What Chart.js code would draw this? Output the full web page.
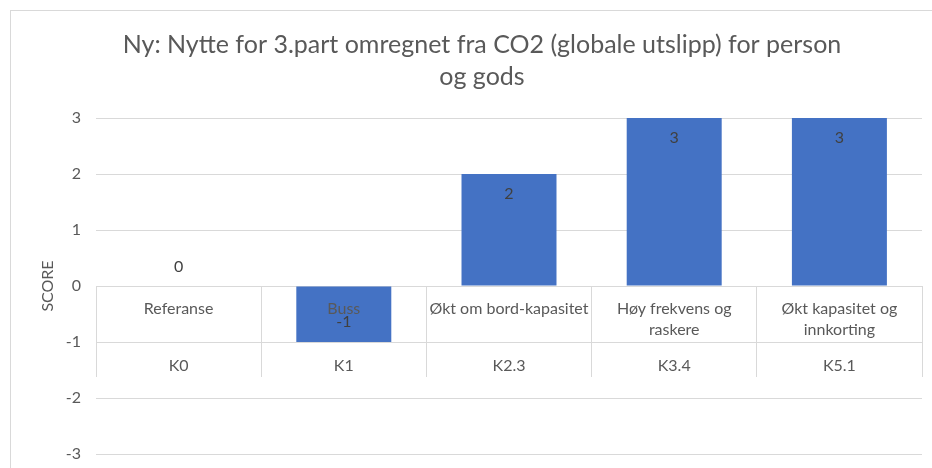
<!DOCTYPE html>
<html>
<head>
<meta charset="utf-8">
<script src="https://cdn.jsdelivr.net/npm/chart.js@4/dist/chart.umd.min.js"></script>
<style>
html, body { margin: 0; padding: 0; background: #fff; overflow: hidden; }
#wrap {
    position: absolute; left: 10px; top: 10px;
    width: 921px; height: 457px;
    border-left: 1px solid #d9d9d9; border-top: 1px solid #d9d9d9;
}
</style>
</head>
<body>
<div id="wrap"><canvas id="chart"></canvas></div>
<script>
const categories = ['K0', 'K1', 'K2.3', 'K3.4', 'K5.1'];
const names = [['Referanse'], ['Buss'], ['Økt om bord-kapasitet'], ['Høy frekvens og', 'raskere'], ['Økt kapasitet og', 'innkorting']];
const scores = [0, -1, 2, 3, 3];
const yMin = -3, yMax = 3, yStep = 1;
const chartTitle = ['Ny: Nytte for 3.part omregnet fra CO2 (globale utslipp) for person', 'og gods'];

const FONT = 'Lato';
const GREY = '#595959';
const LINE = '#d9d9d9';

// category table under the zero line + data labels, drawn on top of bars
const tableLabels = {
    id: 'tableLabels',
    afterDatasetsDraw(chart){
        const {ctx, scales: {x, y}} = chart;
        const zero = y.getPixelForValue(0);
        const minusOne = y.getPixelForValue(-1);

        ctx.save();
        ctx.font = `16px ${FONT}`;
        ctx.textAlign = 'center';
        ctx.textBaseline = 'middle';
        ctx.fillStyle = GREY;
        names.forEach((lines, i) => {
            const cx = x.getPixelForValue(i);
            lines.forEach((t, j) => ctx.fillText(t, cx, zero + 23 + j * 21));
            ctx.fillText(categories[i], cx, minusOne + 24);
        });

        ctx.fillStyle = '#404040';
        scores.forEach((v, i) => {
            const cx = x.getPixelForValue(i);
            const py = y.getPixelForValue(v);
            const dy = v > 0 ? 20 : (v < 0 ? -20 : -19);
            ctx.fillText(String(v), cx, py + dy);
        });
        ctx.restore();
    }
};

new Chart(document.getElementById('chart'), {
    type: 'bar',
    data: {
        labels: categories,
        datasets: [{
            data: scores,
            backgroundColor: '#4472C4',
            borderWidth: 0,
            barPercentage: 0.575,
            categoryPercentage: 1
        }]
    },
    options: {
        responsive: true,
        maintainAspectRatio: false,
        animation: false,
        layout: { padding: { left: 31, right: 10, top: 0, bottom: 14 } },
        plugins: {
            legend: { display: false },
            tooltip: { enabled: false },
            title: {
                display: true,
                text: chartTitle,
                color: GREY,
                font: { family: FONT, size: 25, weight: 'normal', lineHeight: 32 / 25 },
                padding: { top: 18, bottom: 25 }
            }
        },
        scales: {
            x: {
                position: { y: 0 },
                ticks: { display: false },
                grid: { offset: true, drawOnChartArea: false, drawTicks: true, tickLength: 90, color: LINE },
                border: { color: LINE }
            },
            y: {
                min: yMin,
                max: yMax,
                afterFit(scale){ scale.width = 54; },
                // spacing via an invisible tick mark, so it doesn't pad the plot vertically
                ticks: { stepSize: yStep, color: GREY, font: { family: FONT, size: 16 }, padding: 0 },
                grid: { color: LINE, drawTicks: true, tickLength: 15, tickColor: 'rgba(0,0,0,0)' },
                border: { display: false },
                title: {
                    display: true,
                    text: 'SCORE',
                    color: GREY,
                    font: { family: FONT, size: 16 },
                    padding: { top: -4, bottom: 0 }
                }
            }
        }
    },
    plugins: [tableLabels]
});
</script>
</body>
</html>
